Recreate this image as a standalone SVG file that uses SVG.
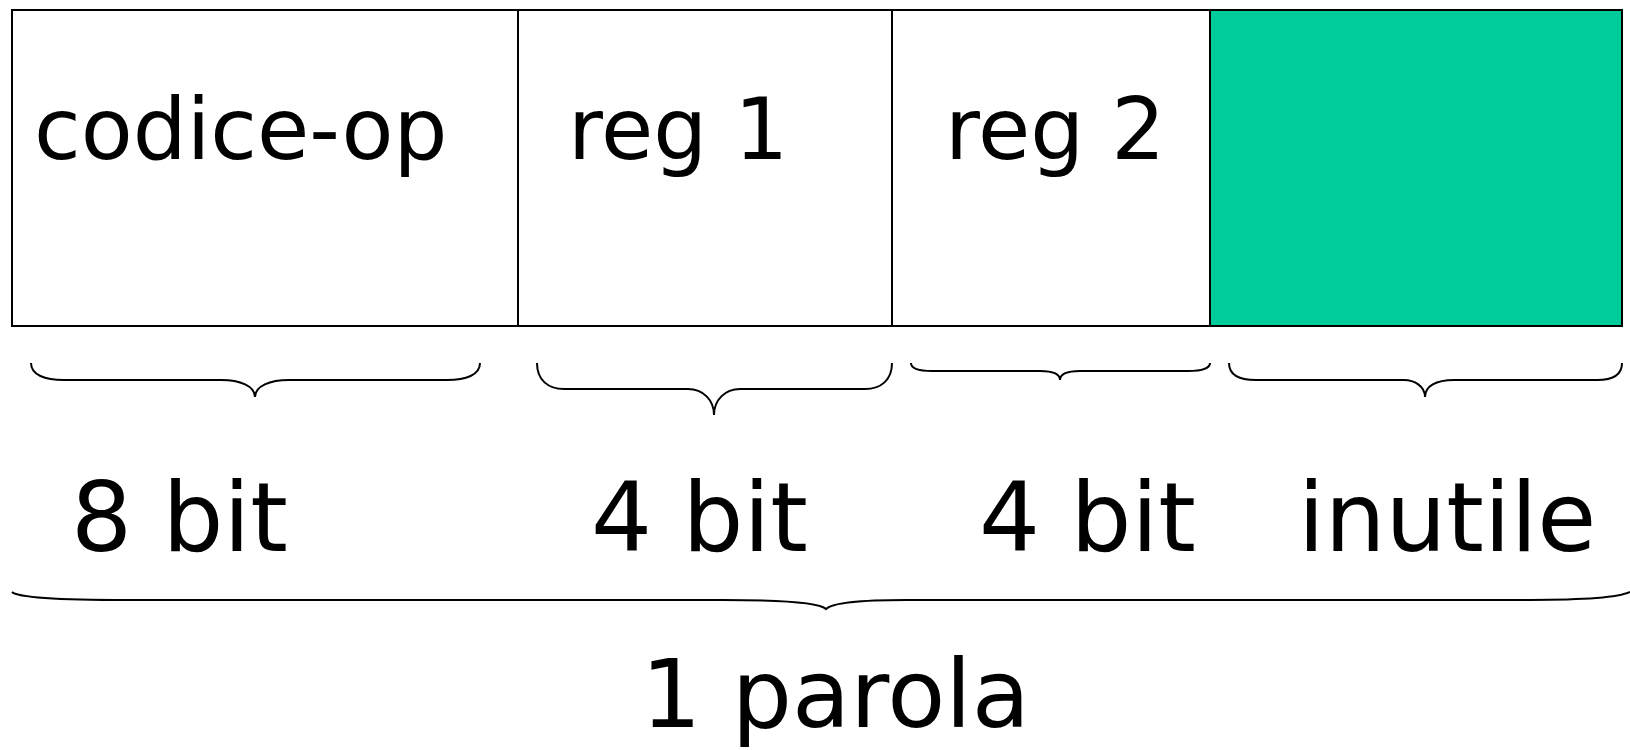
<svg xmlns="http://www.w3.org/2000/svg" width="1630" height="750" viewBox="0 0 1630 750">
<style>
.box{fill:#ffffff;stroke:#000000;stroke-width:2}
.fill{fill:#00CC99;stroke:#000000;stroke-width:2}
.t{font-family:"DejaVu Sans","Verdana",sans-serif;fill:#000000}
.top{font-size:85px}
.bot{font-size:96px}
.brace{fill:none;stroke:#000000;stroke-width:2}
</style>
<rect x="0" y="0" width="1630" height="750" fill="#ffffff"/>
<g id="node-codice-op">
<rect class="box" x="12" y="10" width="506" height="316"/>
<text class="t top" x="34" y="159">codice-op</text>
</g>
<g id="node-reg1">
<rect class="box" x="518" y="10" width="374" height="316"/>
<text class="t top" x="568" y="159">reg 1</text>
</g>
<g id="node-reg2">
<rect class="box" x="892" y="10" width="318" height="316"/>
<text class="t top" x="945" y="159">reg 2</text>
</g>
<g id="node-unused">
<rect class="fill" x="1210" y="10" width="412" height="316"/>
</g>
<g id="connectors">
<path class="brace" d="M31,363 C31,375 45,380 64,380 L221,380 C240,380 255,386 255,397 C255,386 270,380 289,380 L447,380 C466,380 480,375 480,363"/>
<path class="brace" d="M537,363 C537,380 548,389 564,389 L688,389 C703,389 714,400 714,415 C714,400 725,389 740,389 L865,389 C881,389 892,380 892,363"/>
<path class="brace" d="M911,363 C911,368 918,371 932,371 L1040,371 C1052,371 1060,374 1060,380 C1060,374 1068,371 1080,371 L1188,371 C1202,371 1210,368 1210,363"/>
<path class="brace" d="M1229,363 C1229,375 1240,380 1256,380 L1404,380 C1414,380 1425,386 1425,397 C1425,386 1436,380 1454,380 L1597,380 C1612,380 1622,375 1622,363"/>
<path class="brace" d="M12,592 C16,596 40,600 128,600 L723,600 C790,600 820,603 826,609 C832,603 860,600 906,600 L1530,600 C1600,600 1622,596 1630,592"/>
</g>
<g id="labels">
<text class="t bot" x="71" y="551">8 bit</text>
<text class="t bot" x="591" y="551">4 bit</text>
<text class="t bot" x="979" y="551">4 bit</text>
<text class="t bot" x="1298" y="551">inutile</text>
<text class="t" x="641" y="727" font-size="95">1 parola</text>
</g>
</svg>
